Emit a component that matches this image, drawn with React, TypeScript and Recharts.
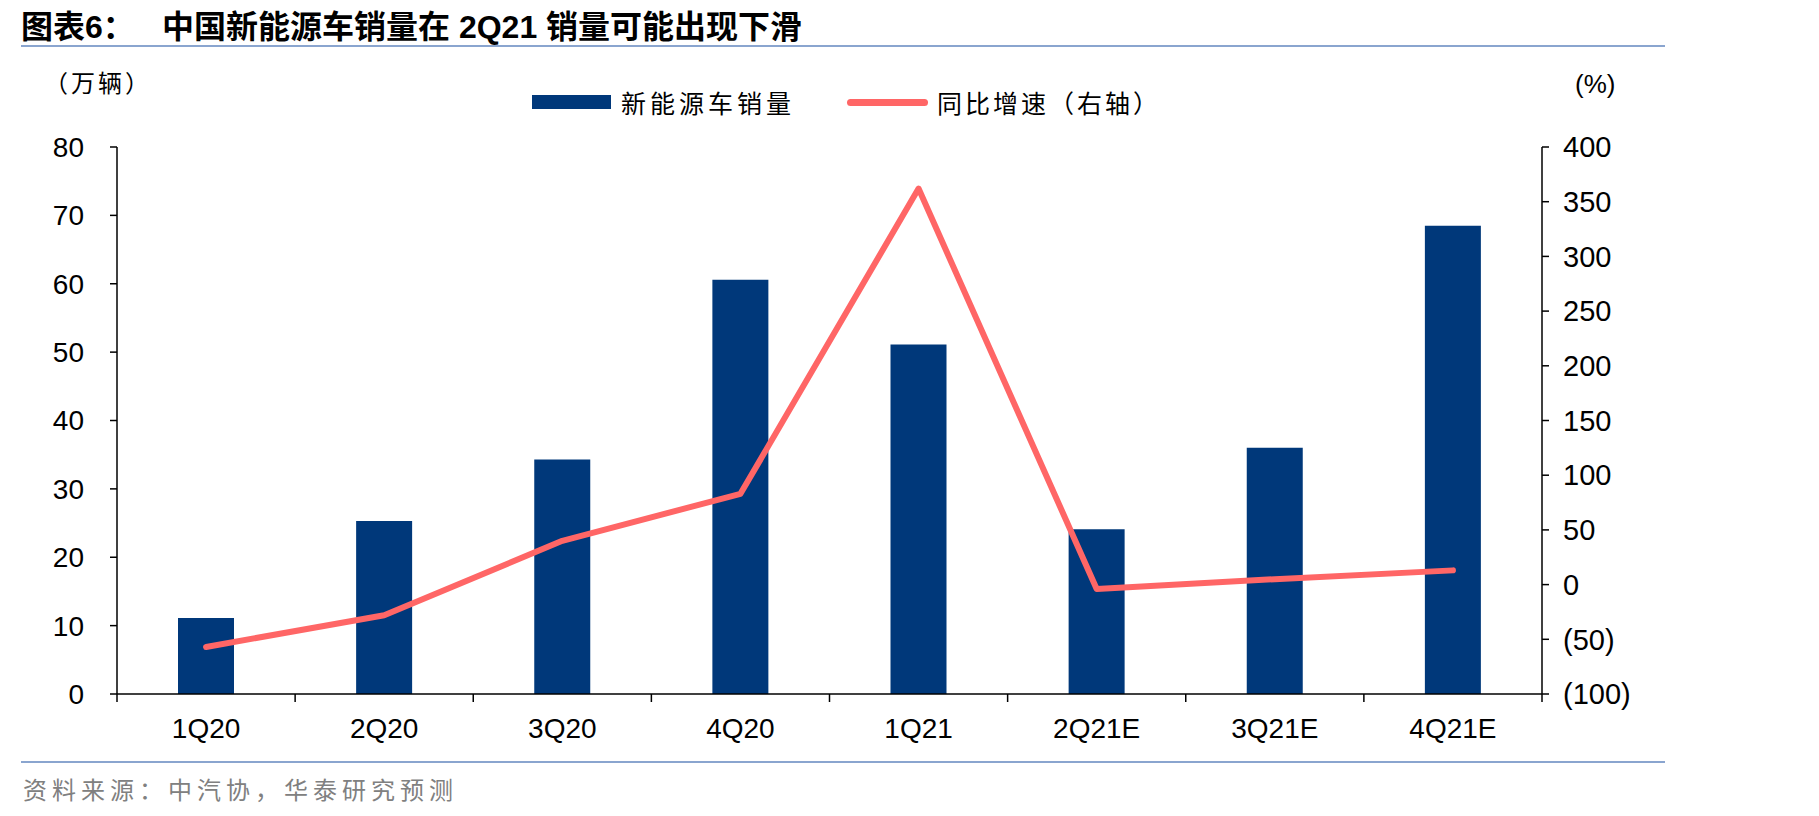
import React from "react";
import { ComposedChart, Bar, Line, XAxis, YAxis } from "recharts";

const categories = ["1Q20", "2Q20", "3Q20", "4Q20", "1Q21", "2Q21E", "3Q21E", "4Q21E"];
const salesValues = [11.1, 25.3, 34.3, 60.6, 51.1, 24.1, 36.0, 68.5];
const growthValues = [-57, -28, 40, 83, 362, -4, 5, 13];
const leftTicks = [0, 10, 20, 30, 40, 50, 60, 70, 80];
const rightTicks = [-100, -50, 0, 50, 100, 150, 200, 250, 300, 350, 400];

const data = categories.map((c, i) => ({
  name: c,
  sales: salesValues[i],
  growth: growthValues[i],
}));

const W = 1819;
const H = 816;
const PLOT_LEFT = 117;
const PLOT_RIGHT = 1542;
const PLOT_TOP = 147;
const PLOT_BOTTOM = 694;
const BAND = (PLOT_RIGHT - PLOT_LEFT) / categories.length;

const NAVY = "#00387A";
const RED = "#FF6666";
const TICK_FONT = "'Liberation Sans', Arial, sans-serif";
const CJK_FONT = "'Noto Sans CJK SC', sans-serif";

const XTick = (props: any) => {
  const { x, payload, index } = props;
  const left = x - BAND / 2;
  const right = x + BAND / 2;
  return (
    <g>
      <line x1={left} x2={left} y1={PLOT_BOTTOM} y2={PLOT_BOTTOM + 8} stroke="#000" strokeWidth={1.5} />
      {index === categories.length - 1 && (
        <line x1={right} x2={right} y1={PLOT_BOTTOM} y2={PLOT_BOTTOM + 8} stroke="#000" strokeWidth={1.5} />
      )}
      <text
        x={x}
        y={PLOT_BOTTOM + 34}
        textAnchor="middle"
        dominantBaseline="central"
        fontFamily={TICK_FONT}
        fontSize={28}
        fill="#000"
      >
        {payload.value}
      </text>
    </g>
  );
};

const fmtRight = (v: number) => (v < 0 ? `(${-v})` : `${v}`);

export default function App() {
  return (
    <div
      style={{
        position: "absolute",
        left: 0,
        top: 0,
        width: W,
        height: H,
        background: "#fff",
        overflow: "hidden",
      }}
    >
      {/* Title */}
      <div
        style={{
          position: "absolute",
          left: 21,
          top: 7,
          fontFamily: TICK_FONT + ", " + CJK_FONT,
          fontWeight: 700,
          fontSize: 32,
          lineHeight: "34px",
          color: "#000",
          whiteSpace: "pre",
        }}
      >
        <span style={{ fontFamily: CJK_FONT }}>图表</span>
        <span>6</span>
        <span style={{ fontFamily: CJK_FONT }}>：</span>
        <span style={{ position: "absolute", left: 141, top: 0, whiteSpace: "pre" }}>
          <span style={{ fontFamily: CJK_FONT }}>中国新能源车销量在</span>
          <span> 2Q21 </span>
          <span style={{ fontFamily: CJK_FONT }}>销量可能出现下滑</span>
        </span>
      </div>
      <div style={{ position: "absolute", left: 21, top: 45, width: 1644, height: 2, background: "#8AA5CF" }} />

      {/* Axis unit labels */}
      <div
        style={{
          position: "absolute",
          left: 44,
          top: 68,
          fontFamily: CJK_FONT,
          fontSize: 24,
          letterSpacing: 3,
          lineHeight: "28px",
          color: "#000",
          whiteSpace: "pre",
        }}
      >
        （万辆）
      </div>
      <div
        style={{
          position: "absolute",
          left: 1575,
          top: 69,
          fontFamily: TICK_FONT,
          fontSize: 26,
          lineHeight: "30px",
          color: "#000",
        }}
      >
        (%)
      </div>

      {/* Legend */}
      <div style={{ position: "absolute", left: 532, top: 95, width: 79, height: 14, background: NAVY }} />
      <div
        style={{
          position: "absolute",
          left: 621,
          top: 86,
          fontFamily: CJK_FONT,
          fontSize: 25,
          letterSpacing: 4,
          lineHeight: "32px",
          color: "#000",
          whiteSpace: "pre",
        }}
      >
        新能源车销量
      </div>
      <div style={{ position: "absolute", left: 847, top: 99, width: 81, height: 7, borderRadius: 3.5, background: RED }} />
      <div
        style={{
          position: "absolute",
          left: 937,
          top: 86,
          fontFamily: CJK_FONT,
          fontSize: 25,
          letterSpacing: 3,
          lineHeight: "32px",
          color: "#000",
          whiteSpace: "pre",
        }}
      >
        同比增速（右轴）
      </div>

      <div style={{ position: "absolute", left: 0, top: 0 }}>
        <ComposedChart
          width={W}
          height={H}
          data={data}
          margin={{ top: PLOT_TOP, right: 0, bottom: H - PLOT_BOTTOM - 40, left: 0 }}
        >
          <XAxis
            dataKey="name"
            xAxisId="x"
            height={40}
            axisLine={{ stroke: "#000", strokeWidth: 1.5 }}
            tickLine={false}
            tick={<XTick />}
            interval={0}
          />
          <YAxis
            yAxisId="left"
            orientation="left"
            width={PLOT_LEFT}
            domain={[0, 80]}
            ticks={leftTicks}
            interval={0}
            tickSize={7}
            tickMargin={26}
            axisLine={{ stroke: "#000", strokeWidth: 1.5 }}
            tickLine={{ stroke: "#000", strokeWidth: 1.5 }}
            tick={{ fill: "#000", fontSize: 28, fontFamily: TICK_FONT }}
          />
          <YAxis
            yAxisId="right"
            orientation="right"
            width={W - PLOT_RIGHT}
            domain={[-100, 400]}
            ticks={rightTicks}
            interval={0}
            tickSize={7}
            tickMargin={14}
            tickFormatter={fmtRight}
            axisLine={{ stroke: "#000", strokeWidth: 1.5 }}
            tickLine={{ stroke: "#000", strokeWidth: 1.5 }}
            tick={{ fill: "#000", fontSize: 29, fontFamily: TICK_FONT, textAnchor: "start" }}
          />
          <Bar
            xAxisId="x"
            yAxisId="left"
            dataKey="sales"
            fill={NAVY}
            barSize={56}
            isAnimationActive={false}
          />
          <Line
            xAxisId="x"
            yAxisId="right"
            dataKey="growth"
            type="linear"
            stroke={RED}
            strokeWidth={6}
            strokeLinecap="round"
            strokeLinejoin="round"
            dot={false}
            activeDot={false}
            isAnimationActive={false}
          />
        </ComposedChart>
      </div>

      {/* Footer */}
      <div style={{ position: "absolute", left: 21, top: 761, width: 1644, height: 2, background: "#8AA5CF" }} />
      <div
        style={{
          position: "absolute",
          left: 23,
          top: 774,
          fontFamily: CJK_FONT,
          fontSize: 24,
          letterSpacing: 5,
          lineHeight: "30px",
          color: "#808080",
          whiteSpace: "pre",
        }}
      >
        资料来源：中汽协，华泰研究预测
      </div>
    </div>
  );
}
